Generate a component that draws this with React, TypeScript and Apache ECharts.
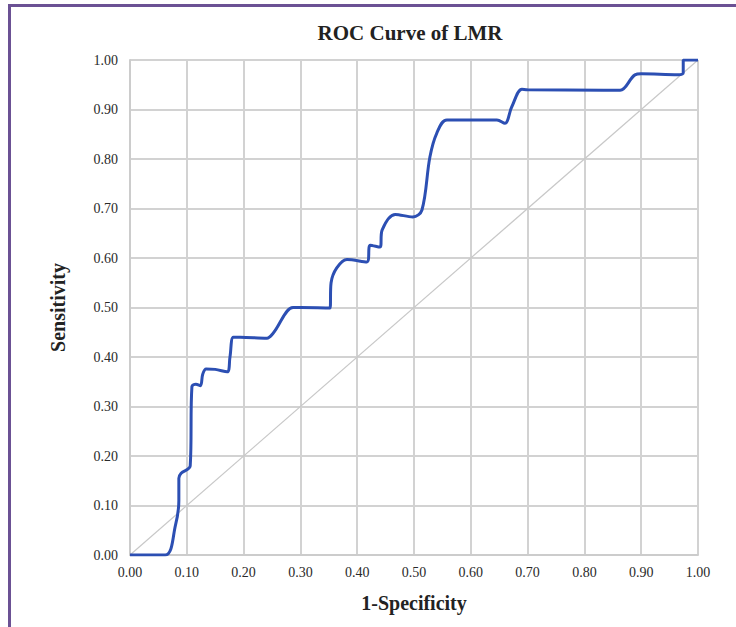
import React, { useEffect, useRef } from "react";
import * as echarts from "echarts";

const titleText = "ROC Curve of LMR";
const xName = "1-Specificity";
const yName = "Sensitivity";

// ROC curve points (1-Specificity, Sensitivity)
const fpr = [
  0, 0.062, 0.08, 0.086, 0.086, 0.09, 0.106, 0.109, 0.116, 0.124, 0.128, 0.134, 0.15, 0.171,
  0.176, 0.182, 0.194, 0.241, 0.252, 0.287, 0.3, 0.352, 0.354, 0.364, 0.382, 0.417, 0.423,
  0.44, 0.444, 0.467, 0.498, 0.514, 0.528, 0.54, 0.558, 0.646, 0.66, 0.672, 0.69, 0.7, 0.833,
  0.863, 0.889, 0.9, 0.965, 0.974, 0.974, 1.0,
];
const tpr = [
  0, 0, 0.06, 0.11, 0.155, 0.165, 0.18, 0.34, 0.345, 0.342, 0.365, 0.376, 0.375, 0.37,
  0.4, 0.44, 0.44, 0.438, 0.448, 0.5, 0.5, 0.499, 0.55, 0.58, 0.597, 0.592, 0.626,
  0.622, 0.657, 0.688, 0.683, 0.697, 0.804, 0.852, 0.879, 0.879, 0.872, 0.905, 0.941, 0.94, 0.939,
  0.939, 0.97, 0.972, 0.97, 0.974, 1.0, 1.0,
];
const refX = [0, 1];
const refY = [0, 1];

export default function App() {
  const ref = useRef<HTMLDivElement>(null);
  useEffect(() => {
    const chart = echarts.init(ref.current!, null, { renderer: "svg" });
    const serif = "'Liberation Serif', 'Times New Roman', serif";
    chart.setOption({
      animation: false,
      backgroundColor: "#ffffff",
      title: {
        text: titleText,
        left: 405,
        textAlign: "center",
        top: 17,
        textStyle: { fontFamily: serif, fontWeight: "bold", fontSize: 21, color: "#222" },
      },
      grid: { left: 130, right: 38, top: 60, bottom: 72 },
      xAxis: {
        type: "value",
        min: 0,
        max: 1,
        interval: 0.1,
        name: xName,
        nameLocation: "middle",
        nameGap: 38,
        nameTextStyle: { fontFamily: serif, fontWeight: "bold", fontSize: 20, color: "#222" },
        axisLine: { show: true, lineStyle: { color: "#cccccc", width: 2 } },
        axisTick: { show: false },
        axisLabel: {
          fontFamily: serif,
          fontSize: 14,
          color: "#2a2a2a",
          margin: 10,
          formatter: (v: number) => v.toFixed(2),
        },
        splitLine: { show: true, lineStyle: { color: "#d2d2d2", width: 2 } },
      },
      yAxis: {
        type: "value",
        min: 0,
        max: 1,
        interval: 0.1,
        name: yName,
        nameLocation: "middle",
        nameGap: 62,
        nameTextStyle: { fontFamily: serif, fontWeight: "bold", fontSize: 20, color: "#222" },
        axisLine: { show: true, lineStyle: { color: "#cccccc", width: 2 } },
        axisTick: { show: false },
        axisLabel: {
          fontFamily: serif,
          fontSize: 14,
          color: "#2a2a2a",
          margin: 12,
          formatter: (v: number) => v.toFixed(2),
        },
        splitLine: { show: true, lineStyle: { color: "#d2d2d2", width: 2 } },
      },
      graphic: [
        { type: "rect", shape: { x: 8, y: 4, width: 728, height: 3 }, style: { fill: "#6b5194" } },
        { type: "rect", shape: { x: 8, y: 4, width: 3, height: 623 }, style: { fill: "#6b5194" } },
      ],
      series: [
        {
          type: "line",
          data: refX.map((x, i) => [x, refY[i]]),
          showSymbol: false,
          lineStyle: { color: "#c8c8c8", width: 1.2 },
          z: 2,
        },
        {
          type: "line",
          data: fpr.map((x, i) => [x, tpr[i]]),
          showSymbol: false,
          smooth: 0.35,
          lineStyle: { color: "#2c4fb3", width: 3 },
          z: 3,
        },
      ],
    });
    return () => chart.dispose();
  }, []);
  return (
    <div
      ref={ref}
      style={{ position: "fixed", left: 0, top: 0, width: 736, height: 627 }}
    />
  );
}
